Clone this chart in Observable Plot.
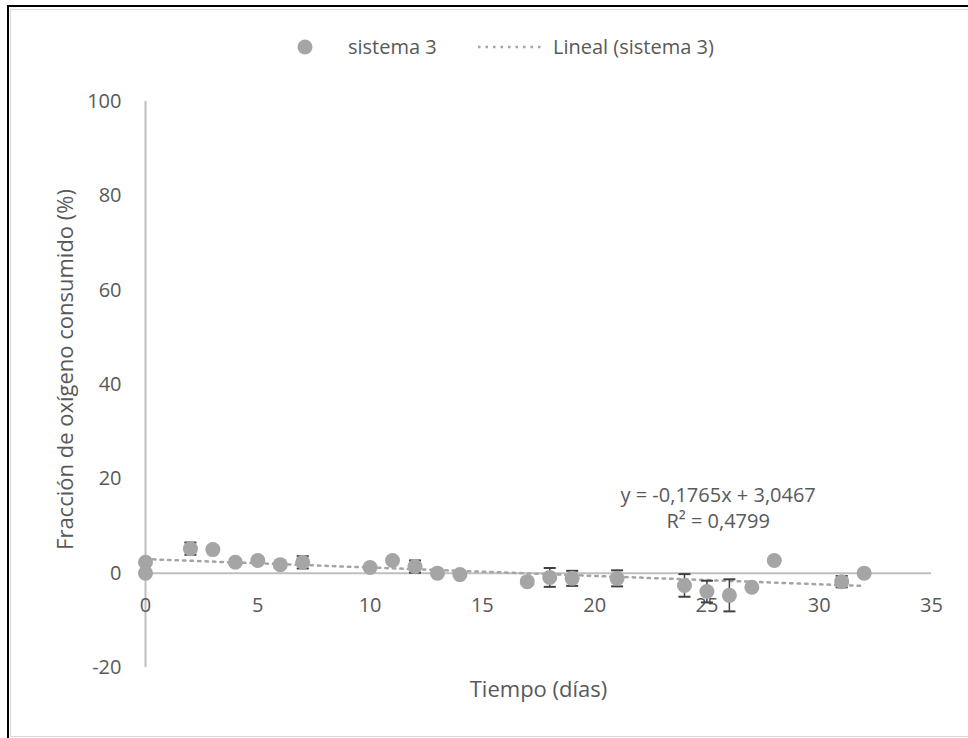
<!DOCTYPE html>
<html><head><meta charset="utf-8">
<script src="https://cdn.jsdelivr.net/npm/d3@7"></script>
<script src="https://cdn.jsdelivr.net/npm/@observablehq/plot@0.6"></script>
<style>
body{margin:0;width:968px;height:738px;overflow:hidden;background:#fff;font-family:"Open Sans",sans-serif;position:relative;}
#outer{position:absolute;left:7px;top:5px;width:970px;height:740px;border-left:2px solid #000;border-top:2px solid #000;}
#inner{position:absolute;left:10px;top:9px;width:970px;height:726px;border:1px solid #d9d9d9;}
#legend{position:absolute;left:0;top:0;width:968px;height:80px;}
#legend .lab{position:absolute;top:32px;line-height:30px;font-size:20px;color:#595959;white-space:nowrap;}
#legend svg{position:absolute;}
#plot{position:absolute;left:0;top:80px;}
</style>
</head><body>
<div id="outer"></div>
<div id="inner"></div>
<div id="legend"></div>
<div id="plot"></div>
<script>
// ---- data ----
const days     = [0, 0, 2, 3, 4, 5, 6, 7, 10, 11, 12, 13, 14, 17, 18, 19, 21, 24, 25, 26, 27, 28, 31, 32];
const fraction = [0, 2.3, 5.2, 5.0, 2.3, 2.7, 1.8, 2.3, 1.2, 2.7, 1.4, 0, -0.3, -1.8, -0.9, -1.1, -1.1, -2.6, -3.9, -4.7, -3.0, 2.7, -1.8, 0];
const errors   = [0, 0, 1.3, 0, 0, 0, 0, 1.3, 0, 0, 1.3, 0, 0, 0, 2.0, 1.6, 1.7, 2.4, 2.3, 3.4, 0, 0, 1.2, 0];
const xTicks = [0, 5, 10, 15, 20, 25, 30, 35];
const yTicks = [-20, 0, 20, 40, 60, 80, 100];
const seriesName = "sistema 3";
const trendName = "Lineal (sistema 3)";
const xTitle = "Tiempo (días)";
const yTitle = "Fracción de oxígeno consumido (%)";
const equationLines = ["y = -0,1765x + 3,0467", "R² = 0,4799"];

// ---- styles ----
const dotColor = "#A5A5A5";
const axisColor = "#BFBFBF";
const textColor = "#595959";
const errColor = "#404040";
const dash = "2.5 5";

const rows = days.map((d, i) => ({day: d, frac: fraction[i], err: errors[i]}));
const withErr = rows.filter(r => r.err > 0);
const capSymbol = {draw(ctx) { ctx.moveTo(-6, 0); ctx.lineTo(6, 0); }};

// legend (HTML, above the SVG)
const legend = document.getElementById("legend");
legend.innerHTML = `
<svg style="left:297px;top:39px" width="16" height="16"><circle cx="8" cy="8" r="7.5" fill="${dotColor}"/></svg>
<span class="lab" style="left:348px">${seriesName}</span>
<svg style="left:477px;top:42px" width="70" height="10"><line x1="1" x2="68" y1="5" y2="5" stroke="${dotColor}" stroke-width="2.5" stroke-dasharray="${dash}"/></svg>
<span class="lab" style="left:553px">${trendName}</span>`;

const chart = Plot.plot({
  width: 968,
  height: 658,
  marginTop: 21,
  marginBottom: 71,
  marginLeft: 145,
  marginRight: 37,
  x: {domain: [0, 35], axis: null},
  y: {domain: [-20, 100], axis: null},
  style: {fontFamily: "'Open Sans', sans-serif", fontSize: "20px", color: textColor, background: "transparent", overflow: "visible"},
  marks: [
    Plot.ruleY([0], {stroke: axisColor, strokeWidth: 2}),
    Plot.ruleX([0], {stroke: axisColor, strokeWidth: 2}),
    Plot.text(yTicks, {frameAnchor: "left", y: d => d, text: d => String(d), dx: -24, textAnchor: "end", fill: textColor, fontSize: 20}),
    Plot.text(xTicks, {x: d => d, y: () => 0, text: d => String(d), dy: 32, fill: textColor, fontSize: 20}),
    Plot.text([yTitle], {frameAnchor: "left", rotate: -90, dx: -80, dy: -15, textAnchor: "middle", lineAnchor: "middle", fill: textColor, fontSize: 22}),
    Plot.text([xTitle], {frameAnchor: "bottom", dy: 22, lineAnchor: "middle", fill: textColor, fontSize: 22}),
    Plot.linearRegressionY(rows, {x: "day", y: "frac", ci: 0, stroke: dotColor, strokeWidth: 2.5, strokeDasharray: dash}),
    Plot.ruleX(withErr, {x: "day", y1: r => r.frac - r.err, y2: r => r.frac + r.err, stroke: errColor, strokeWidth: 1.5}),
    Plot.dot(withErr, {x: "day", y: r => r.frac + r.err, symbol: capSymbol, stroke: errColor, strokeWidth: 2, fill: "none"}),
    Plot.dot(withErr, {x: "day", y: r => r.frac - r.err, symbol: capSymbol, stroke: errColor, strokeWidth: 2, fill: "none"}),
    Plot.dot(rows, {x: "day", y: "frac", r: 7.5, fill: dotColor, stroke: "none"}),
    Plot.text([equationLines.join("\n")], {x: 25.5, y: 14.1, lineHeight: 1.3, fill: textColor, fontSize: 20, textAnchor: "middle"})
  ]
});
document.getElementById("plot").appendChild(chart);
</script>
</body></html>
